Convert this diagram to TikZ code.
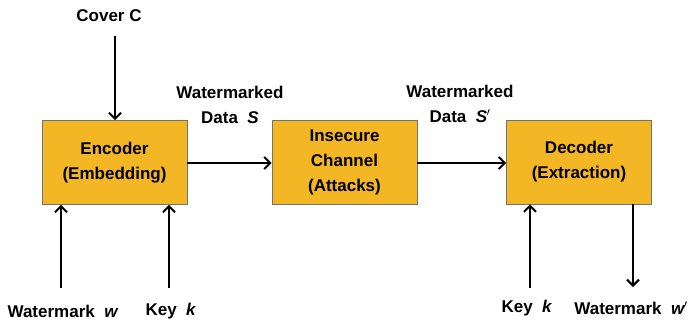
\documentclass[tikz,border=0pt]{standalone}
\usepackage{fontspec}
\setmainfont{Liberation Sans}
\usetikzlibrary{arrows.meta}
\definecolor{boxgold}{RGB}{243,182,36}
\newcommand{\lbl}{\bfseries\fontsize{17}{25}\selectfont}

\begin{document}
\begin{tikzpicture}[x=1pt, y=-1pt]
        \tikzstyle{proc_box}=[draw=black!55, line width=0.8pt, fill=boxgold, shape=rectangle, minimum width=145pt, minimum height=84pt, align=center, font=\lbl, inner sep=0pt];
        \tikzstyle{txt}=[align=center, font=\lbl, inner sep=0pt];
        \tikzstyle{myedge}=[line width=2.2pt, -{Straight Barb[length=6pt, width=12pt, line width=2pt]}];
        \useasboundingbox (0,0) rectangle (689,322);

        % boxes
        \node[proc_box] (enc) at (114.5, 162.5) {Encoder\\(Embedding)};
        \node[proc_box] (chan) at (344.5, 162) {Insecure\\Channel\\(Attacks)};
        \node[proc_box] (dec) at (579, 162) {Decoder\\(Extraction)};

        % encoder inputs
        \node[txt] (cover) at (109, 16) {Cover C};
        \coordinate (cov_top) at (115, 36);
        \draw[myedge] (cov_top) -- (enc.north -| cov_top);

        \node[txt] (wm_in) at (63, 311) {Watermark \ \textit{w}};
        \coordinate (wm_bot) at (61, 288);
        \draw[myedge] (wm_bot) -- (enc.south -| wm_bot);

        \node[txt] (key_enc) at (171, 311) {Key \ \textit{k}};
        \coordinate (key1_bot) at (169, 288);
        \draw[myedge] (key1_bot) -- (enc.south -| key1_bot);

        % data path
        \node[txt] (data_s) at (230, 105) {Watermarked\\Data \ \textit{S}};
        \draw[myedge] (enc.east |- 0,163) -- (chan.west |- 0,163);

        \node[txt] (data_s2) at (460, 104) {Watermarked\\Data \ \textit{S\kern-0.5pt$'$}};
        \draw[myedge] (chan.east |- 0,163) -- (dec.west |- 0,163);

        % decoder in / out
        \node[txt] (key_dec) at (527, 308) {Key \ \textit{k}};
        \coordinate (key2_bot) at (530, 288);
        \draw[myedge] (key2_bot) -- (dec.south -| key2_bot);

        \node[txt] (wm_out) at (631, 308) {Watermark \ \textit{w\kern-0.5pt$'$}};
        \coordinate (wmo_bot) at (633, 287);
        \draw[myedge] (dec.south -| wmo_bot) -- (wmo_bot);
\end{tikzpicture}
\end{document}
